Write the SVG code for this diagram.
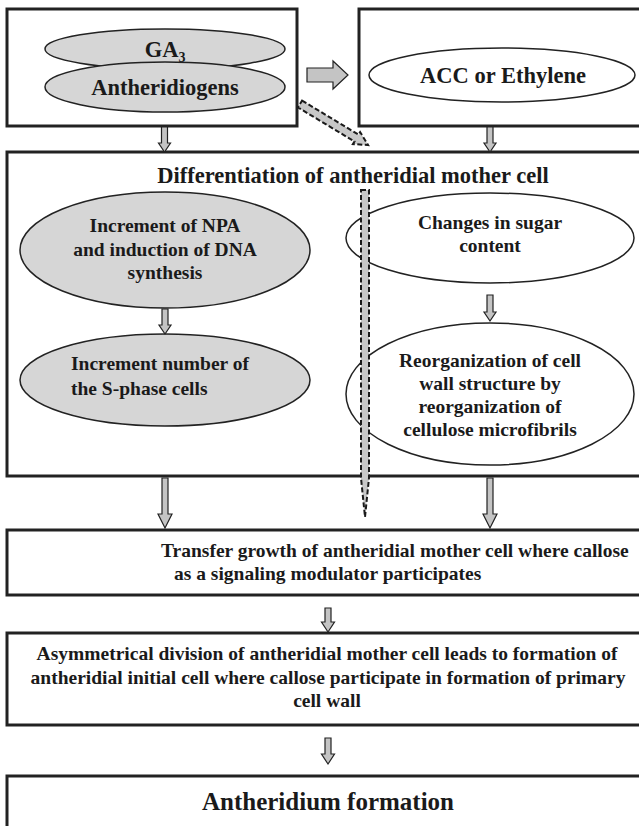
<svg xmlns="http://www.w3.org/2000/svg" width="639" height="826" viewBox="0 0 639 826" font-family="'Liberation Serif', 'Times New Roman', Times, serif">
<style>
.box{fill:#fff;stroke:#222;stroke-width:3}
.eg{fill:#d6d6d6;stroke:#222;stroke-width:1.5}
.ew{fill:#fff;stroke:#222;stroke-width:1.5}
text{font-family:'Liberation Serif','Times New Roman',Times,serif;font-weight:700;fill:#1a1a1a}
.t{font-size:19.5px}
.m{text-anchor:middle}
.h{font-size:22.5px}
.big{font-size:25px}
.arr{fill:#c4c4c4;stroke:#222;stroke-width:1.2;stroke-linejoin:miter}
.dash{fill:#c8c8c8;stroke:#1a1a1a;stroke-width:2;stroke-dasharray:5 2.5}
</style>
<defs>
<path id="dn" d="M-3,0 H3 V-9 H6.5 L0,0 L-6.5,-9 H-3 Z"/>
</defs>
<rect width="639" height="826" fill="#fff"/>

<g id="node-hormones">
<rect class="box" x="7" y="9" width="290" height="117"/>
<ellipse class="eg" cx="165" cy="49" rx="120" ry="20"/>
<ellipse class="eg" cx="165" cy="87" rx="120" ry="25"/>
<text class="h m" x="165" y="57">GA<tspan font-size="14" dy="5">3</tspan></text>
<text class="h m" x="165" y="95">Antheridiogens</text>
</g>

<g id="node-acc">
<rect class="box" x="359" y="9" width="290" height="117"/>
<ellipse class="ew" cx="502" cy="75" rx="133" ry="27"/>
<text class="h m" x="503" y="83">ACC or Ethylene</text>
</g>

<g id="node-differentiation">
<rect class="box" x="7" y="152" width="642" height="324"/>
<text class="h m" x="353" y="183">Differentiation of antheridial mother cell</text>
</g>

<g id="node-npa">
<ellipse class="eg" cx="165" cy="250" rx="145" ry="58"/>
<text class="t m" x="165" y="232">Increment of NPA</text>
<text class="t m" x="165" y="256">and induction of DNA</text>
<text class="t m" x="165" y="279">synthesis</text>
</g>

<g id="node-sphase">
<ellipse class="eg" cx="165" cy="380" rx="145" ry="46"/>
<text class="t" x="71" y="370">Increment number of</text>
<text class="t" x="71" y="395">the S-phase cells</text>
</g>

<g id="node-sugar">
<ellipse class="ew" cx="490" cy="238" rx="144" ry="45"/>
<text class="t m" x="490" y="229">Changes in sugar</text>
<text class="t m" x="490" y="252">content</text>
</g>

<g id="node-cellwall">
<ellipse class="ew" cx="490" cy="394" rx="144" ry="71"/>
<text class="t m" x="490" y="367">Reorganization of cell</text>
<text class="t m" x="490" y="390">wall structure by</text>
<text class="t m" x="490" y="413">reorganization of</text>
<text class="t m" x="490" y="436">cellulose microfibrils</text>
</g>

<g id="node-transfer">
<rect class="box" x="7" y="530" width="642" height="65"/>
<text class="t" x="161" y="557">Transfer growth of antheridial mother cell where callose</text>
<text class="t" x="174" y="580">as a signaling modulator participates</text>
</g>

<g id="node-division">
<rect class="box" x="7" y="633" width="642" height="92"/>
<text class="t m" x="327" y="660">Asymmetrical division of antheridial mother cell leads to formation of</text>
<text class="t m" x="328" y="684">antheridial initial cell where callose participate in formation of primary</text>
<text class="t m" x="327" y="707">cell wall</text>
</g>

<g id="node-antheridium">
<rect class="box" x="7" y="776" width="642" height="80"/>
<text class="big m" x="328" y="810">Antheridium formation</text>
</g>

<g id="connectors">
<path class="arr" d="M307,68 H333 V61 L348,75 L333,89 V82 H307 Z"/>
<path class="arr" d="M161.5,127 H167.5 V143 H170.5 L164.5,152 L158.5,143 H161.5 Z"/>
<path class="arr" d="M487,127 H493 V143 H496 L490,152 L484,143 H487 Z"/>
<path class="arr" d="M162,309 H168 V325 H171 L165,334 L159,325 H162 Z"/>
<path class="arr" d="M487,295 H493 V312 H496 L490,321 L484,312 H487 Z"/>
<path class="arr" d="M162,478 H168 V514 H172 L165,528 L158,514 H162 Z"/>
<path class="arr" d="M487,478 H493 V514 H497 L490,528 L483,514 H487 Z"/>
<path class="arr" d="M325,608 H331 V622 H334.5 L328,632 L321.5,622 H325 Z"/>
<path class="arr" d="M325,738 H331 V754 H334.5 L328,764 L321.5,754 H325 Z"/>
<g transform="translate(300,104) rotate(31.1)">
<polygon class="dash" points="0,-4 66,-4 66,-7 79.5,0 66,7 66,4 0,4"/>
</g>
<polygon class="dash" points="361,190 369,190 369,478 365,517 361,478"/>
</g>
</svg>
